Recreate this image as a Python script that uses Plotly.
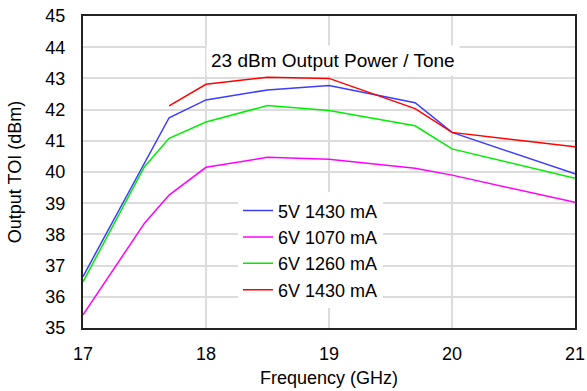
import plotly.graph_objects as go

freq_blue = [17, 17.7, 18, 18.5, 19, 19.7, 20, 21]
toi_blue = [36.65, 41.74, 42.31, 42.63, 42.77, 42.22, 41.27, 39.94]

freq_mag = [17, 17.5, 17.7, 18, 18.5, 19, 19.7, 20, 21]
toi_mag = [35.42, 38.36, 39.26, 40.15, 40.47, 40.41, 40.12, 39.9, 39.03]

freq_green = [17, 17.5, 17.7, 18, 18.5, 19, 19.7, 20, 21]
toi_green = [36.48, 40.17, 41.08, 41.6, 42.13, 41.97, 41.48, 40.74, 39.8]

freq_red = [17.7, 18, 18.5, 19, 19.7, 20, 21]
toi_red = [42.12, 42.81, 43.04, 43.0, 42.03, 41.27, 40.81]

names = ["5V 1430 mA", "6V 1070 mA", "6V 1260 mA", "6V 1430 mA"]
colors = ["#3c3cff", "#ff00ff", "#00ee00", "#ff0000"]
series = [(freq_blue, toi_blue), (freq_mag, toi_mag), (freq_green, toi_green), (freq_red, toi_red)]

title_text = "23 dBm Output Power / Tone"

fig = go.Figure()
for i, ((x, y), n, c) in enumerate(zip(series, names, colors)):
    fig.add_trace(go.Scatter(x=x, y=y, name=n, mode="lines",
                             line=dict(color=c, width=1.5), legendgroup=str(i)))

font = "Liberation Sans, Arial, sans-serif"
fig.update_layout(
    width=587, height=391,
    margin=dict(l=83, r=12, t=16, b=63, autoexpand=False),
    plot_bgcolor="white", paper_bgcolor="white",
    font=dict(family=font, size=18, color="black"),
    legend=dict(x=0.315, y=0.435, xanchor="left", yanchor="top",
                bgcolor="white", borderwidth=0, tracegroupgap=0,
                font=dict(size=18)),
    xaxis=dict(range=[17, 21], dtick=1, showgrid=True, gridcolor="#dcdcdc", gridwidth=1.5,
               showline=True, linecolor="#222", linewidth=2, mirror=True,
               ticks="", zeroline=False, automargin=False, ticklabelstandoff=8,
               tickfont=dict(size=18),
               title=dict(text="Frequency (GHz)", standoff=9, font=dict(size=18))),
    yaxis=dict(range=[35, 45], dtick=1, showgrid=True, gridcolor="#dcdcdc", gridwidth=1.5,
               showline=True, linecolor="#222", linewidth=2, mirror=True,
               ticks="", zeroline=False, automargin=False, ticklabelstandoff=12,
               tickfont=dict(size=18),
               title=dict(text="Output TOI (dBm)", standoff=19, font=dict(size=18))),
    annotations=[dict(text=title_text, x=0.509, y=0.907, xref="paper", yref="paper",
                      showarrow=False, bgcolor="white", font=dict(size=19),
                      borderpad=4)],
)
fig.write_html("out.html")
